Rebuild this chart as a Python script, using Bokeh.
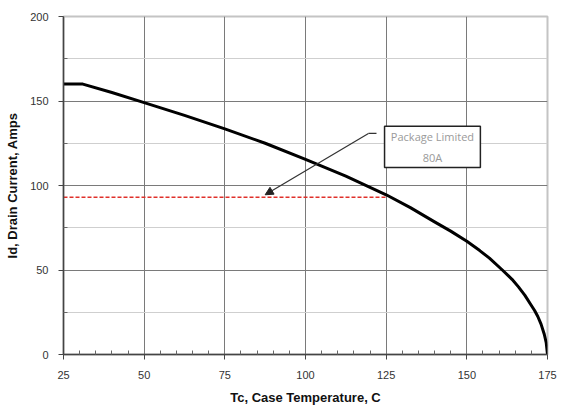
from bokeh.plotting import figure
from bokeh.models import FixedTicker, Range1d, Arrow, NormalHead, Label, BoxAnnotation
from bokeh.embed import file_html
from bokeh.resources import INLINE

# Data
temps = [25, 31, 40, 50, 62.5, 75, 87.5, 100, 112.5, 125, 132.5, 140, 145, 150, 154, 157,
         161, 164, 166, 168, 170, 171, 172, 173, 174, 174.6, 175]
current = [160, 160, 155, 149, 141.5, 133.5, 125, 115.5, 105.5, 94.5, 86.9, 78.5, 73, 67, 61.5, 57,
           50, 44.5, 40, 35, 29, 26, 22.5, 18, 12, 7, 0]
pkg_x = [25, 125]
pkg_y = [93, 93]
x_ticks = [25, 50, 75, 100, 125, 150, 175]
y_ticks = [0, 50, 100, 150, 200]
y_minor = [25, 75, 125, 175]
x_minor = [v for v in range(25, 176, 5) if v not in x_ticks]
note_text = "Package Limited\n80A"

# annotation geometry (data units)
box_l, box_r, box_b, box_t = 124.5, 154.2, 110.7, 135
elbow = (119.5, 130.8)
tail = (122, 130.8)
tip = (87.5, 94.5)

p = figure(width=562, height=407, output_backend="svg", toolbar_location=None,
           x_range=Range1d(25, 175), y_range=Range1d(0, 200),
           min_border_left=63, min_border_right=15, min_border_top=16, min_border_bottom=53)
p.background_fill_color = "white"
p.border_fill_color = "white"
p.outline_line_color = "#c4c4c4"
p.outline_line_width = 2

p.xaxis.ticker = FixedTicker(ticks=x_ticks, minor_ticks=x_minor)
p.yaxis.ticker = FixedTicker(ticks=y_ticks, minor_ticks=y_minor)

for ax in (p.xaxis[0], p.yaxis[0]):
    ax.axis_line_color = "#444444"
    ax.axis_line_width = 1.5
    ax.major_tick_line_color = "#444444"
    ax.minor_tick_line_color = "#666666"
    ax.major_tick_in = 0
    ax.major_tick_out = 5
    ax.minor_tick_in = 4
    ax.minor_tick_out = 0
    ax.major_label_text_font = "Liberation Sans"
    ax.major_label_text_font_size = "11px"
    ax.major_label_text_color = "#333333"
    ax.axis_label_text_font = "Liberation Sans"
    ax.axis_label_text_font_size = "13px"
    ax.axis_label_text_font_style = "bold"
    ax.axis_label_text_color = "#111111"

p.xaxis.axis_label = "Tc, Case Temperature, C"
p.yaxis.axis_label = "Id, Drain Current, Amps"
p.xaxis.major_label_standoff = 11
p.yaxis.major_label_standoff = 10
p.xaxis.axis_label_standoff = 8
p.yaxis.axis_label_standoff = 7

p.xgrid.grid_line_color = "#7a7a7a"
p.xgrid.grid_line_width = 1
p.ygrid.grid_line_color = "#7a7a7a"
p.ygrid.grid_line_width = 1
p.ygrid.minor_grid_line_color = "#cfcfcf"
p.ygrid.minor_grid_line_width = 1

p.line(pkg_x, pkg_y, line_color="#e0302a", line_width=1.5, line_dash="4 2")
p.line(temps, current, line_color="black", line_width=3, line_join="round")

p.add_layout(BoxAnnotation(left=box_l, right=box_r, bottom=box_b, top=box_t,
                           fill_color="white", fill_alpha=1,
                           line_color="#222222", line_alpha=1, line_width=1.5,
                           level="annotation"))
p.add_layout(Label(x=(box_l + box_r) / 2, y=(box_b + box_t) / 2, text=note_text,
                   text_align="center", text_baseline="middle",
                   text_font="Open Sans", text_font_size="11px", text_color="#9a9a9a",
                   text_line_height=1.45, level="overlay"))
p.segment(x0=[tail[0]], y0=[tail[1]], x1=[elbow[0]], y1=[elbow[1]],
          line_color="#333333", line_width=1.2)
p.add_layout(Arrow(end=NormalHead(size=8, fill_color="#222222", line_color="#222222"),
                   x_start=elbow[0], y_start=elbow[1], x_end=tip[0], y_end=tip[1],
                   line_color="#333333", line_width=1.2))

open("out.html", "w").write(file_html(p, INLINE))
